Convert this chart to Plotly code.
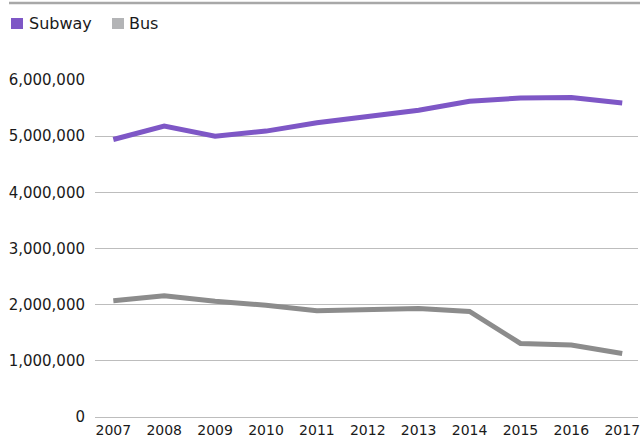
import plotly.graph_objects as go

years = [2007, 2008, 2009, 2010, 2011, 2012, 2013, 2014, 2015, 2016, 2017]
subway = [4940000, 5180000, 5000000, 5090000, 5240000, 5360000, 5460000, 5620000, 5680000, 5690000, 5590000]
bus = [2070000, 2160000, 2060000, 1990000, 1890000, 1910000, 1930000, 1880000, 1310000, 1280000, 1130000]
y_ticks = [0, 1000000, 2000000, 3000000, 4000000, 5000000, 6000000]
series_names = ["Subway", "Bus"]

PURPLE = "#7e57c6"
GRAY_LINE = "#8c8c8c"
GRAY_KEY = "#b3b4b6"
TEXT = "#1a1a1a"
FONT = "DejaVu Sans"

W, H = 640, 441
ML, MR, MT, MB = 95, 2, 80, 24
PW = W - ML - MR
PH = H - MT - MB


def px_x(px):
    return (px - ML) / PW


def px_y(py):
    return (H - MB - py) / PH


fig = go.Figure()
fig.add_trace(go.Scatter(x=years, y=subway, mode="lines", name=series_names[0],
                         line=dict(color=PURPLE, width=5), showlegend=False))
fig.add_trace(go.Scatter(x=years, y=bus, mode="lines", name=series_names[1],
                         line=dict(color=GRAY_LINE, width=5), showlegend=False))

shapes = [
    dict(type="line", xref="paper", yref="paper", x0=px_x(9), x1=px_x(641),
         y0=px_y(3), y1=px_y(3), line=dict(color="#a8a8a8", width=2.5)),
    dict(type="rect", xref="paper", yref="paper", x0=px_x(11), x1=px_x(23),
         y0=px_y(29), y1=px_y(18), fillcolor=PURPLE, line=dict(width=0)),
    dict(type="rect", xref="paper", yref="paper", x0=px_x(112), x1=px_x(124),
         y0=px_y(29), y1=px_y(18), fillcolor=GRAY_KEY, line=dict(width=0)),
]
annotations = [
    dict(text=series_names[0], xref="paper", yref="paper", x=px_x(27), y=px_y(23.5),
         xanchor="left", yanchor="middle", showarrow=False,
         font=dict(family=FONT, size=16, color=TEXT)),
    dict(text=series_names[1], xref="paper", yref="paper", x=px_x(127), y=px_y(23.5),
         xanchor="left", yanchor="middle", showarrow=False,
         font=dict(family=FONT, size=16, color=TEXT)),
]

fig.update_layout(
    width=W, height=H,
    margin=dict(l=ML, r=MR, t=MT, b=MB, pad=0, autoexpand=False),
    paper_bgcolor="white", plot_bgcolor="white",
    font=dict(family=FONT, size=15, color=TEXT),
    shapes=shapes, annotations=annotations,
    showlegend=False,
    xaxis=dict(range=[2006.64, 2017.31], tickvals=years, ticktext=[str(y) for y in years],
               showgrid=False, zeroline=False, showline=False, ticks="",
               ticklabelstandoff=3, ticklabeloverflow="allow",
               tickfont=dict(family=FONT, size=14, color=TEXT), fixedrange=True),
    yaxis=dict(range=[0, 6000000], tickvals=y_ticks,
               ticktext=[f"{v:,}" for v in y_ticks],
               showgrid=True, gridcolor="#bdbdbd", gridwidth=1.3,
               zeroline=True, zerolinecolor="#bdbdbd", zerolinewidth=1.3,
               showline=False, ticks="", ticklabelstandoff=9,
               tickfont=dict(family=FONT, size=15, color=TEXT), fixedrange=True),
)

fig.write_html("out.html", config={"displayModeBar": False},
               post_script="document.body.style.margin='0';document.body.style.overflow='hidden';")
